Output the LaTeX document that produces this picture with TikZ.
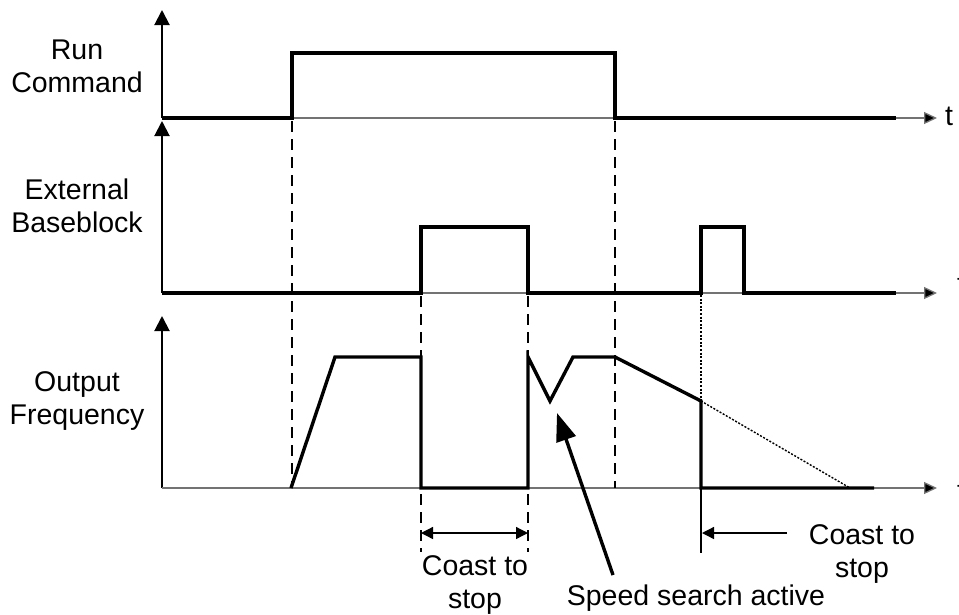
\documentclass[tikz,border=0pt]{standalone}
\usepackage{fontspec}
\setmainfont{Liberation Sans}
\usetikzlibrary{arrows.meta}
\begin{document}
\begin{tikzpicture}[x=1pt,y=-1pt,
  every node/.style={font=\fontsize{28.5}{33}\selectfont, inner sep=0pt},
  sig/.style={line width=3.4pt, line join=miter},
  axisv/.style={line width=2pt, -{Triangle[length=15pt,width=15pt]}},
  axish/.style={line width=1.3pt, draw=black!55, -{Triangle[length=13pt,width=12pt,fill=black]}},
  dashline/.style={line width=2.1pt, dash pattern=on 11pt off 7pt},
  dotline/.style={line width=1.6pt, dash pattern=on 2pt off 1.6pt},
  dim/.style={line width=1.3pt}
]
\path[use as bounding box] (0,0) rectangle (959,614);

% axes
\draw[axisv] (162,118) -- (162,10);
\draw[axisv] (162,293) -- (162,121);
\draw[axisv] (162,488) -- (162,316);
\draw[axish] (162,118) -- (937,118);
\draw[axish] (162,293) -- (937,293);
\draw[axish] (162,488) -- (937,488);

% dashed guides
\draw[dashline] (292,121) -- (292,488);
\draw[dashline] (615,121) -- (615,488);
\draw[dashline] (421,296) -- (421,552);
\draw[dashline] (528,296) -- (528,552);

% dotted guides
\draw[dotline] (701,295) -- (701,401);
\draw[dotline, line width=1.4pt] (701,401) -- (850,488);

% signals
\draw[sig] (162,118) -- (292,118) -- (292,53) -- (615,53) -- (615,118) -- (896,118);
\draw[sig] (162,293) -- (421,293) -- (421,227) -- (528,227) -- (528,293) -- (701,293)
  -- (701,227) -- (744,227) -- (744,293) -- (896,293);
\draw[sig] (291,488) -- (335,357) -- (421,357) -- (421,488) -- (528,488) -- (528,357)
  -- (550,401) -- (573,357) -- (615,357) -- (701,401) -- (701,488) -- (874,488);

% labels
\node[align=center] (run) at (77,66.5) {Run\\Command};
\node[align=center] (ext) at (77,206) {External\\Baseblock};
\node[align=center] (out) at (77,401) {Output\\Frequency};
\node[anchor=west] (t1) at (945,116) {t};
\node[anchor=west] (t2) at (957,284) {t};
\node[anchor=west] (t3) at (957,491) {t};

% coast to stop (left)
\coordinate (cl) at (421,533);
\coordinate (cr) at (528,533);
\draw[dim, {Triangle[length=12pt,width=12pt]}-{Triangle[length=12pt,width=12pt]}] (cl) -- (cr);
\node[align=center] (c1) at (475,584.5) {Coast to\\stop};

% coast to stop (right)
\coordinate (vb) at (701,488);
\coordinate (ve) at (701,553);
\draw[dim] (vb) -- (ve);
\coordinate (as) at (787,533);
\coordinate (ae) at (702,533);
\draw[dim, -{Triangle[length=12pt,width=12pt]}] (as) -- (ae);
\node[align=center] (c2) at (862,553.5) {Coast to\\stop};

% speed search
\node (ss) at (696,598) {Speed search active};
\coordinate (sa) at (613,575);
\coordinate (sb) at (557,413);
\draw[line width=3.4pt, -{Triangle[length=28pt,width=20pt]}] (sa) -- (sb);
\end{tikzpicture}
\end{document}
